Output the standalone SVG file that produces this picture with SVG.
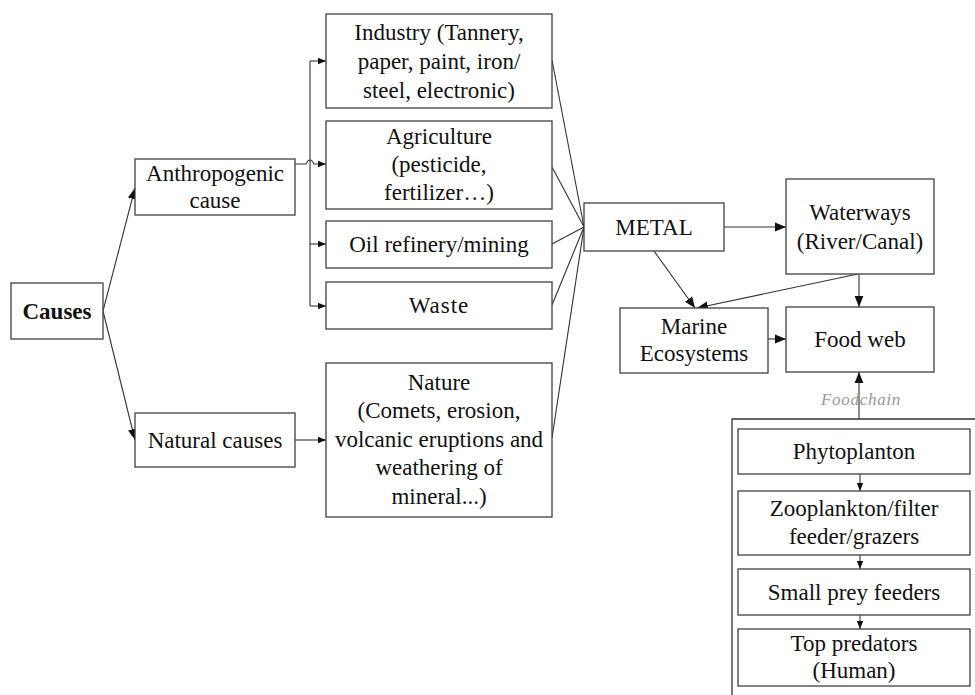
<svg xmlns="http://www.w3.org/2000/svg" width="975" height="695" viewBox="0 0 975 695">
<style>
.box{fill:#fff;stroke:#404040;stroke-width:1.3}
.t{font-size:23px;fill:#111;text-anchor:middle}
.b{font-weight:bold}
.ln{fill:none;stroke:#333;stroke-width:1.1}
.fc{font-size:17px;font-style:italic;fill:#999;text-anchor:middle;letter-spacing:0.7px}
</style>
<defs>
<marker id="ah" viewBox="0 0 10 10" refX="10" refY="5" markerWidth="11" markerHeight="11" markerUnits="userSpaceOnUse" orient="auto">
<path d="M0,1 L10,5 L0,9 Z" fill="#111"/>
</marker>
<marker id="ahs" viewBox="0 0 10 10" refX="10" refY="5" markerWidth="8" markerHeight="8" markerUnits="userSpaceOnUse" orient="auto">
<path d="M0,1 L10,5 L0,9 Z" fill="#111"/>
</marker>
</defs>
<rect width="975" height="695" fill="#fff"/>

<g id="connectors">
<line class="ln" x1="103" y1="311" x2="135" y2="188" marker-end="url(#ah)"/>
<line class="ln" x1="103" y1="311" x2="135" y2="440" marker-end="url(#ah)"/>
<line class="ln" x1="310" y1="61" x2="310" y2="306"/>
<line class="ln" x1="310" y1="61" x2="326" y2="61" marker-end="url(#ahs)"/>
<line class="ln" x1="310" y1="244" x2="326" y2="244" marker-end="url(#ahs)"/>
<line class="ln" x1="310" y1="306" x2="326" y2="306" marker-end="url(#ahs)"/>
<path class="ln" d="M295,164 L306,164 Q310,156 314,164 L326,164" marker-end="url(#ahs)"/>
<line class="ln" x1="295" y1="440" x2="326" y2="440" marker-end="url(#ahs)"/>
<line class="ln" x1="552" y1="60" x2="584" y2="227"/>
<line class="ln" x1="552" y1="167" x2="584" y2="227"/>
<line class="ln" x1="552" y1="244" x2="584" y2="227"/>
<line class="ln" x1="552" y1="305" x2="584" y2="227"/>
<line class="ln" x1="552" y1="438" x2="584" y2="227"/>
<line class="ln" x1="724" y1="227" x2="786" y2="227" marker-end="url(#ah)"/>
<line class="ln" x1="654" y1="251" x2="695" y2="308" marker-end="url(#ah)"/>
<line class="ln" x1="858" y1="274" x2="697" y2="308" marker-end="url(#ah)"/>
<line class="ln" x1="859" y1="274" x2="859" y2="307" marker-end="url(#ah)"/>
<line class="ln" x1="768" y1="339" x2="786" y2="339" marker-end="url(#ah)"/>
<line class="ln" x1="859" y1="419" x2="859" y2="372" marker-end="url(#ah)"/>
<line class="ln" x1="860" y1="474" x2="860" y2="491" marker-end="url(#ahs)"/>
<line class="ln" x1="860" y1="555" x2="860" y2="569" marker-end="url(#ahs)"/>
<line class="ln" x1="860" y1="615" x2="860" y2="629" marker-end="url(#ahs)"/>
</g>

<g font-family="'Liberation Serif', 'Times New Roman', Times, serif">
<text class="fc" x="861" y="405">Foodchain</text>

<g id="foodchain-container">
<path d="M732,695 L732,419 L975,419" fill="none" stroke="#333" stroke-width="1.3"/>
</g>

<g id="causes">
<rect class="box" x="11" y="283" width="92" height="56" stroke-width="1.8"/>
<text class="t b" x="57" y="319">Causes</text>
</g>
<g id="anthropogenic">
<rect class="box" x="135" y="159" width="160" height="56"/>
<text class="t" x="215" y="181">Anthropogenic</text>
<text class="t" x="215" y="208">cause</text>
</g>
<g id="natural">
<rect class="box" x="135" y="413" width="160" height="54"/>
<text class="t" x="215" y="448">Natural causes</text>
</g>
<g id="industry">
<rect class="box" x="326" y="14" width="226" height="94"/>
<text class="t" x="439" y="40">Industry (Tannery,</text>
<text class="t" x="439" y="69">paper, paint, iron/</text>
<text class="t" x="439" y="98">steel, electronic)</text>
</g>
<g id="agriculture">
<rect class="box" x="326" y="121" width="226" height="88"/>
<text class="t" x="439" y="144">Agriculture</text>
<text class="t" x="439" y="172">(pesticide,</text>
<text class="t" x="439" y="200">fertilizer…)</text>
</g>
<g id="oil">
<rect class="box" x="326" y="221" width="226" height="47"/>
<text class="t" x="439" y="252">Oil refinery/mining</text>
</g>
<g id="waste">
<rect class="box" x="326" y="282" width="226" height="47"/>
<text class="t" x="439" y="313" letter-spacing="1">Waste</text>
</g>
<g id="nature">
<rect class="box" x="326" y="363" width="226" height="154"/>
<text class="t" x="439" y="390">Nature</text>
<text class="t" x="439" y="418">(Comets, erosion,</text>
<text class="t" x="439" y="447">volcanic eruptions and</text>
<text class="t" x="439" y="475">weathering of</text>
<text class="t" x="439" y="504">mineral...)</text>
</g>
<g id="metal">
<rect class="box" x="584" y="203" width="140" height="48"/>
<text class="t" x="654" y="235">METAL</text>
</g>
<g id="waterways">
<rect class="box" x="786" y="179" width="148" height="95"/>
<text class="t" x="860" y="220">Waterways</text>
<text class="t" x="860" y="249">(River/Canal)</text>
</g>
<g id="marine">
<rect class="box" x="620" y="308" width="148" height="65"/>
<text class="t" x="694" y="334">Marine</text>
<text class="t" x="694" y="361">Ecosystems</text>
</g>
<g id="foodweb">
<rect class="box" x="786" y="307" width="148" height="65"/>
<text class="t" x="860" y="347">Food web</text>
</g>
<g id="phyto">
<rect class="box" x="738" y="429" width="232" height="45"/>
<text class="t" x="854" y="459">Phytoplanton</text>
</g>
<g id="zoo">
<rect class="box" x="738" y="491" width="232" height="64"/>
<text class="t" x="854" y="516">Zooplankton/filter</text>
<text class="t" x="854" y="544">feeder/grazers</text>
</g>
<g id="smallprey">
<rect class="box" x="738" y="569" width="232" height="46"/>
<text class="t" x="854" y="600">Small prey feeders</text>
</g>
<g id="top">
<rect class="box" x="738" y="629" width="232" height="57"/>
<text class="t" x="854" y="651">Top predators</text>
<text class="t" x="854" y="678">(Human)</text>
</g>
</g>
</svg>
